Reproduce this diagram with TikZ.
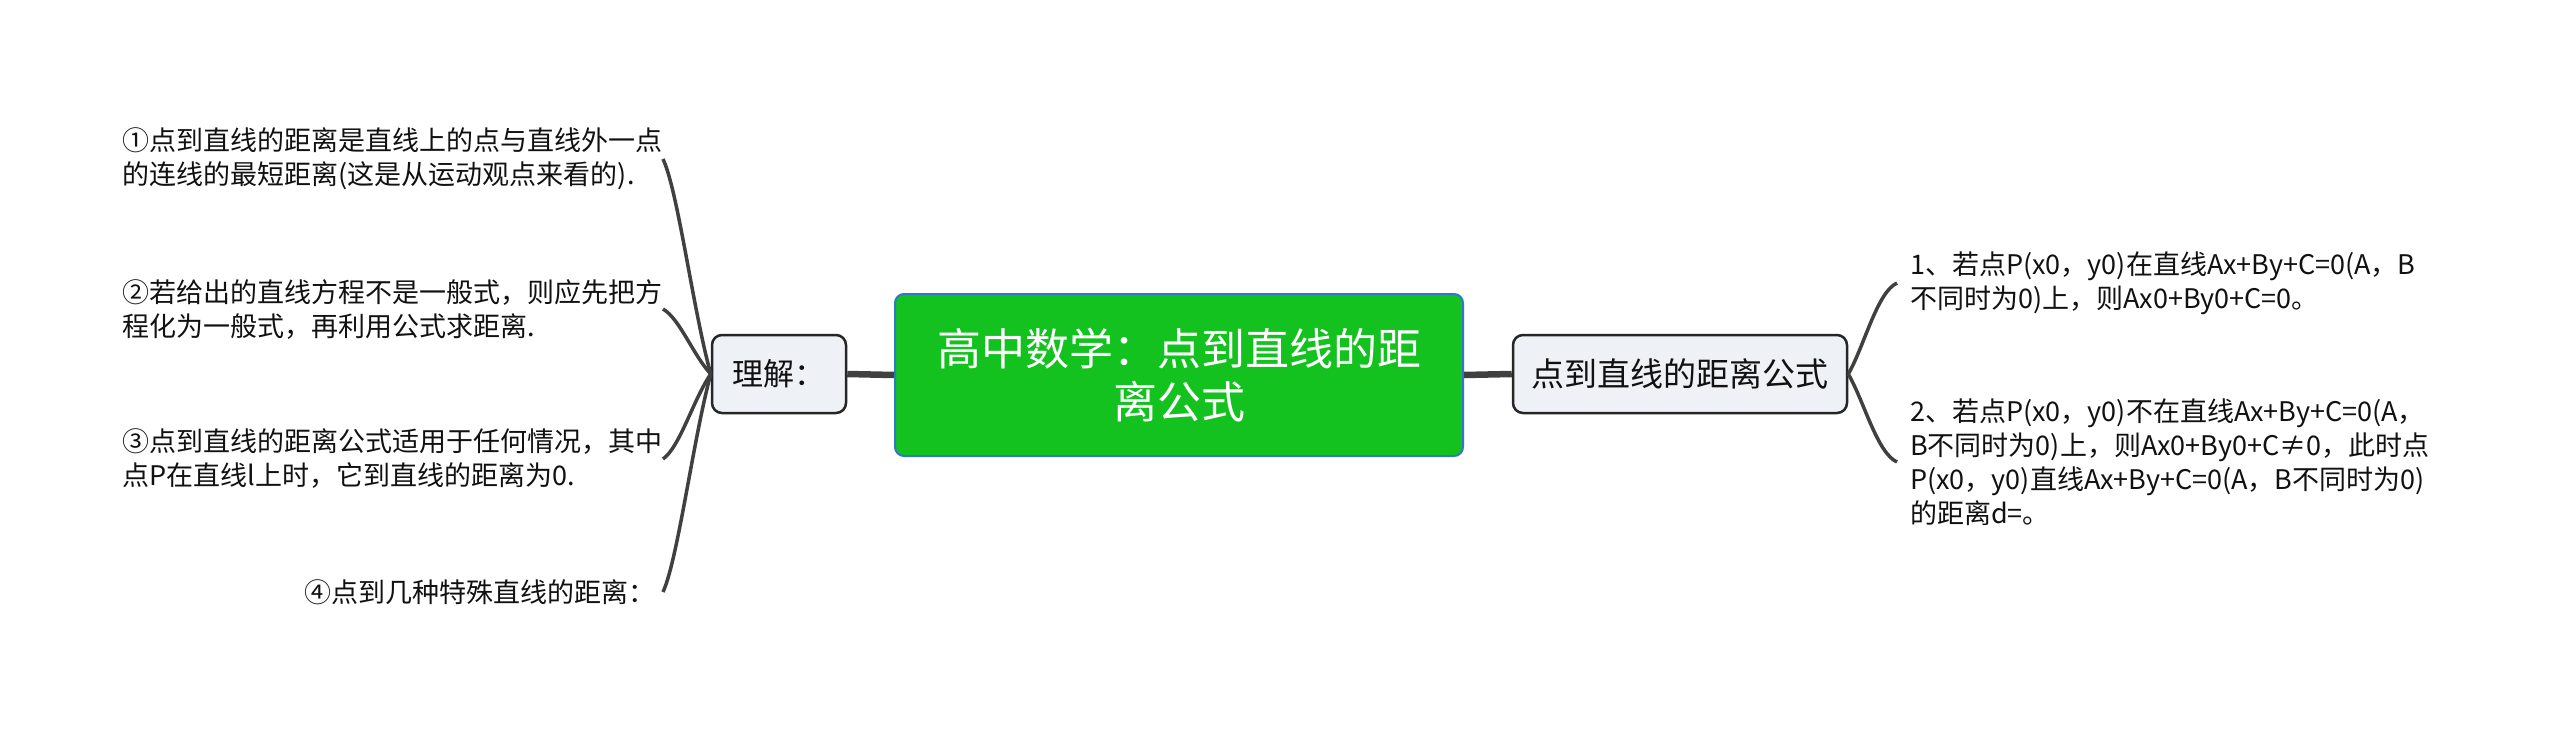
\documentclass[tikz,border=0pt]{standalone}
\usepackage{fontspec}
\setmainfont{Noto Sans CJK SC}
\definecolor{cgreen}{HTML}{13C11F}
\definecolor{cblue}{HTML}{2E78C7}
\definecolor{subfill}{HTML}{EEF1F5}
\definecolor{lin}{HTML}{404040}
\definecolor{txt}{HTML}{111111}
\tikzset{
  rootbox/.style={draw=cblue, line width=2pt, fill=cgreen, rounded corners=9pt, minimum width=568pt, minimum height=162pt, align=center, text=white, font=\fontsize{44}{53}\selectfont, inner sep=0pt},
  subbox/.style={draw=black!85, line width=2.5pt, fill=subfill, rounded corners=10pt, minimum height=78pt, text=txt, inner sep=0pt},
  leaftext/.style={align=left, text=txt, font=\fontsize{27}{34}\selectfont, inner sep=0pt},
  mainline/.style={draw=lin, line width=6.5pt},
  leafline/.style={draw=lin, line width=3.5pt},
}
\begin{document}
\begin{tikzpicture}[x=1pt,y=-1pt]
\useasboundingbox (0,0) rectangle (2560,733);
% nodes
\node[rootbox] (root) at (1179,375) {高中数学：点到直线的距\\离公式};
\node[subbox, minimum width=134pt, font=\fontsize{31}{36}\selectfont] (li) at (779,374) {理解：};
\node[subbox, minimum width=334pt, font=\fontsize{33}{38}\selectfont] (gs) at (1680,374) {点到直线的距离公式};
% left leaves
\node[leaftext, anchor=east] (l1) at (663,159) {①点到直线的距离是直线上的点与直线外一点\\的连线的最短距离(这是从运动观点来看的).};
\node[leaftext, anchor=east] (l2) at (663,309) {②若给出的直线方程不是一般式，则应先把方\\程化为一般式，再利用公式求距离.};
\node[leaftext, anchor=east] (l3) at (663,459) {③点到直线的距离公式适用于任何情况，其中\\点P在直线l上时，它到直线的距离为0.};
\node[leaftext, anchor=east] (l4) at (656,592) {④点到几种特殊直线的距离：};
% right leaves
\node[leaftext, anchor=west, inner xsep=13pt] (r1) at (1897,283) {1、若点P(x0，y0)在直线Ax+By+C=0(A，B\\不同时为0)上，则Ax0+By0+C=0。};
\node[leaftext, anchor=west, inner xsep=13pt] (r2) at (1897,462) {2、若点P(x0，y0)不在直线Ax+By+C=0(A，\\B不同时为0)上，则Ax0+By0+C≠0，此时点\\P(x0，y0)直线Ax+By+C=0(A，B不同时为0)\\的距离d=。};
\coordinate (l4e) at (663,592);
% main connectors
\draw[mainline] (root.west) -- (li.east);
\draw[mainline] (root.east) -- (gs.west);
% left curves
\draw[leafline] (li.west) .. controls (693,310) and (678,191) .. (l1.east);
\draw[leafline] (li.west) .. controls (693,355) and (680,319) .. (l2.east);
\draw[leafline] (li.west) .. controls (693,400) and (680,447) .. (l3.east);
\draw[leafline] (li.west) .. controls (693,440) and (678,559) .. (l4e);
% right curves
\draw[leafline] (gs.east) .. controls (1864,347) and (1877,292) .. (r1.west);
\draw[leafline] (gs.east) .. controls (1864,401) and (1877,453) .. (r2.west);
\end{tikzpicture}
\end{document}
